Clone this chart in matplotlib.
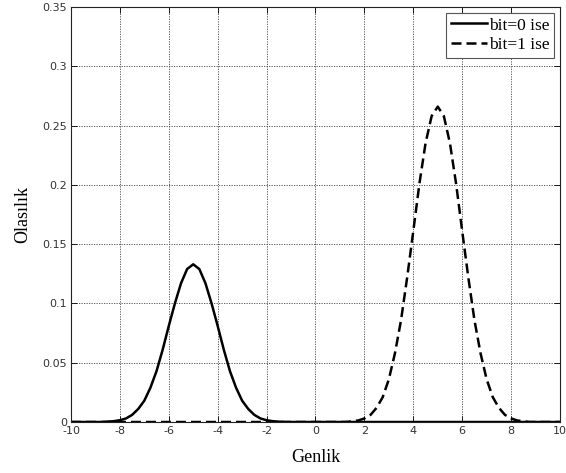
import matplotlib.pyplot as plt
import numpy as np

# sample grid for both curves (step 0.25 from -10 to 10)
x = np.linspace(-10, 10, 81)

# bit=0 curve (peak ~0.133 at -5)
bit0_core = [0.0003, 0.0007, 0.0015, 0.003, 0.006, 0.011, 0.018, 0.029, 0.043,
             0.061, 0.081, 0.100, 0.117, 0.129, 0.133, 0.129, 0.117, 0.100,
             0.081, 0.061, 0.043, 0.029, 0.018, 0.011, 0.006, 0.003, 0.0015,
             0.0007, 0.0003]
y_bit0 = [0.0] * 6 + bit0_core + [0.0] * 46

# bit=1 curve (peak ~0.266 at 5)
bit1_core = [0.0006, 0.0013, 0.003, 0.006, 0.012, 0.021, 0.036, 0.058, 0.086,
             0.122, 0.161, 0.201, 0.235, 0.258, 0.266, 0.258, 0.235, 0.201,
             0.161, 0.122, 0.086, 0.058, 0.036, 0.021, 0.012, 0.006, 0.003,
             0.0013, 0.0006]
y_bit1 = [0.0] * 46 + bit1_core + [0.0] * 6

labels = ['bit=0 ise', 'bit=1 ise']
xticks = [-10, -8, -6, -4, -2, 0, 2, 4, 6, 8, 10]
yticks = [0, 0.05, 0.1, 0.15, 0.2, 0.25, 0.3, 0.35]

fig = plt.figure(figsize=(5.66, 4.73), dpi=100)
ax = fig.add_axes([0.1254, 0.1078, 0.8640, 0.8774])

ax.plot(x, y_bit0, color='black', lw=1.8, label=labels[0])
ax.plot(x, y_bit1, color='black', lw=1.8, dashes=[4, 2], label=labels[1])

ax.set_xlim(-10, 10)
ax.set_ylim(0, 0.35)
ax.set_xticks(xticks)
ax.set_yticks(yticks)
ax.set_xticklabels([str(t) for t in xticks])
ax.set_yticklabels(['0', '0.05', '0.1', '0.15', '0.2', '0.25', '0.3', '0.35'])
ax.tick_params(direction='in', length=4, width=0.6, top=True, right=True,
               labelsize=8, labelcolor='#333333', pad=3)
ax.grid(True, linestyle=(0, (1.5, 1.5)), color='#444444', lw=0.6)
for s in ax.spines.values():
    s.set_linewidth(0.8)
    s.set_color('#222222')

ax.set_xlabel('Genlik', family='Liberation Serif', fontsize=13, labelpad=9)
ax.set_ylabel('Olasılık', family='Liberation Serif', fontsize=13, labelpad=8)

leg = ax.legend(loc='upper right', prop={'family': 'Liberation Serif', 'size': 12.5},
                fancybox=False, framealpha=1, edgecolor='#555555',
                handlelength=2.1, handletextpad=0.1, borderpad=0.25,
                labelspacing=0.2, borderaxespad=0.35)
leg.get_frame().set_linewidth(0.8)

plt.savefig('out.png', dpi=100)
